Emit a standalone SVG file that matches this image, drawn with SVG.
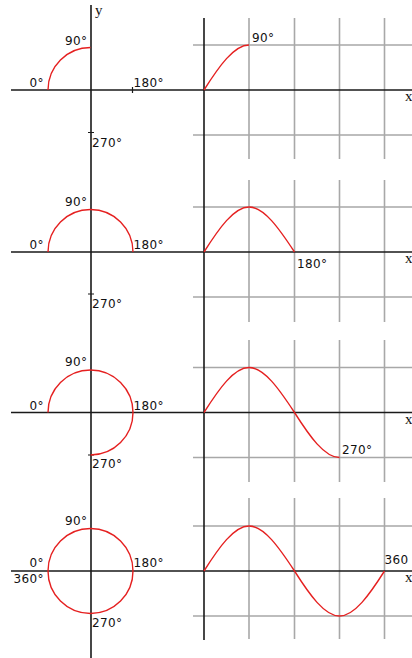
<svg xmlns="http://www.w3.org/2000/svg" width="412" height="658" viewBox="0 0 412 658">
<style>
.bg{fill:#fff}
.ax{stroke:#1a1a1a;stroke-width:1.6;fill:none}
.grid{stroke:#a8a8a8;stroke-width:1.6;fill:none}
.curve{stroke:#e52020;stroke-width:1.4;fill:none}
.tick{stroke:#1a1a1a;stroke-width:1.2;fill:none}
.lbl{font-family:"DejaVu Sans",Verdana,sans-serif;font-size:12px;letter-spacing:0.4px;fill:#111}
.var{font-family:"Liberation Serif","Times New Roman",serif;font-size:15px;fill:#111}
</style>
<rect class="bg" x="0" y="0" width="412" height="658"/>

<g id="grid">
  <path class="grid" d="M249 18V159M294.5 18V159M339.5 18V159M384.5 18V159M193 45H412M193 135H412"/>
  <path class="grid" d="M249 180V322M294.5 180V322M339.5 180V322M384.5 180V322M193 207H412M193 297H412"/>
  <path class="grid" d="M249 340V482M294.5 340V482M339.5 340V482M384.5 340V482M193 367.5H412M193 457.5H412"/>
  <path class="grid" d="M249 498V639M294.5 498V639M339.5 498V639M384.5 498V639M193 526H412M193 616H412"/>
</g>

<g id="axes">
  <path class="ax" d="M91 5V658M204 18V640"/>
  <path class="ax" d="M11 90H412M11 252H412M11 412.5H412M11 571H412"/>
  <path class="tick" d="M132.5 87V93M88 132.5H94M88 294H94M88 455H94"/>
</g>

<g id="section1">
  <path class="curve" d="M48 90A42.5 42.5 0 0 1 90.5 47.5"/>
  <path class="curve" d="M204 90C219 66.4 234 45 249 45"/>
  <text class="var" x="95" y="15">y</text>
  <text class="lbl" x="87.5" y="45" text-anchor="end">90°</text>
  <text class="lbl" x="44" y="87" text-anchor="end">0°</text>
  <text class="lbl" x="133.5" y="87">180°</text>
  <text class="lbl" x="92" y="147">270°</text>
  <text class="lbl" x="252" y="42">90°</text>
  <text class="var" x="405" y="101">x</text>
</g>

<g id="section2">
  <path class="curve" d="M48 252A42.5 42.5 0 0 1 133 252"/>
  <path class="curve" d="M204 252C219 228.4 234 207 249 207C264 207 279 228.4 294.5 252"/>
  <text class="lbl" x="87.5" y="206" text-anchor="end">90°</text>
  <text class="lbl" x="44" y="249" text-anchor="end">0°</text>
  <text class="lbl" x="133.5" y="249">180°</text>
  <text class="lbl" x="92" y="308">270°</text>
  <text class="lbl" x="297" y="267.5">180°</text>
  <text class="var" x="405" y="263">x</text>
</g>

<g id="section3">
  <path class="curve" d="M48 412.5A42.5 42.5 0 1 1 90.5 455"/>
  <path class="curve" d="M204 412.5C219 388.9 234 367.5 249 367.5C264 367.5 279 388.9 294.5 412.5C309.5 436.1 324.5 457.5 339.5 457.5"/>
  <text class="lbl" x="87.5" y="366" text-anchor="end">90°</text>
  <text class="lbl" x="44" y="409.5" text-anchor="end">0°</text>
  <text class="lbl" x="133.5" y="409.5">180°</text>
  <text class="lbl" x="92" y="467.5">270°</text>
  <text class="lbl" x="342" y="454">270°</text>
  <text class="var" x="405" y="423.5">x</text>
</g>

<g id="section4">
  <circle class="curve" cx="90.5" cy="571" r="42.5"/>
  <path class="curve" d="M204 571C219 547.4 234 526 249 526C264 526 279 547.4 294.5 571C309.5 594.6 324.5 616 339.5 616C354.5 616 369.5 594.6 384.5 571"/>
  <text class="lbl" x="87.5" y="524.5" text-anchor="end">90°</text>
  <text class="lbl" x="44" y="567" text-anchor="end">0°</text>
  <text class="lbl" x="44" y="583" text-anchor="end">360°</text>
  <text class="lbl" x="133.5" y="567">180°</text>
  <text class="lbl" x="92" y="627">270°</text>
  <text class="lbl" x="384.5" y="564">360</text>
  <text class="var" x="405" y="582">x</text>
</g>
</svg>
